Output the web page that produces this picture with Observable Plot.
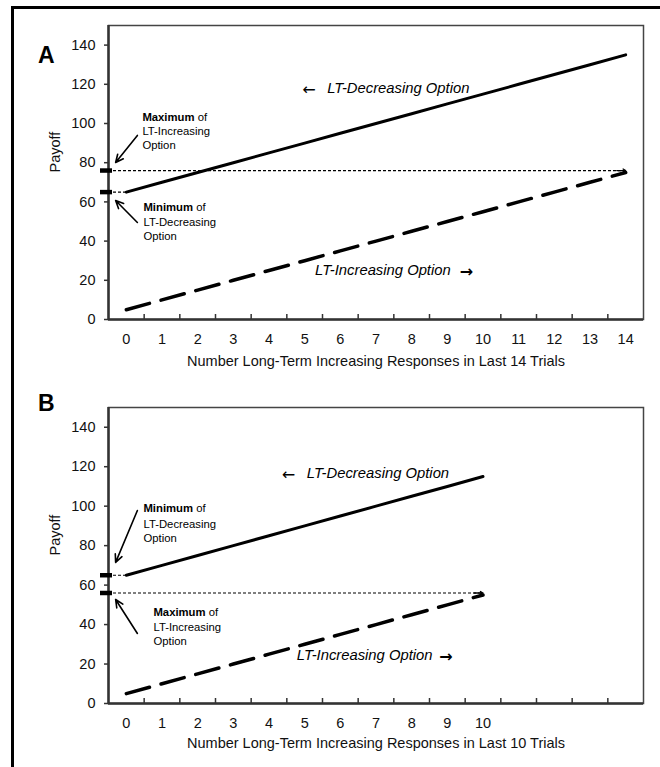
<!DOCTYPE html>
<html><head><meta charset="utf-8">
<script src="https://cdn.jsdelivr.net/npm/d3@7"></script>
<script src="https://cdn.jsdelivr.net/npm/@observablehq/plot@0.6"></script>
<style>
body{margin:0;background:#fff}
#wrap{position:relative;width:660px;height:767px;overflow:hidden;background:#fff}
#a{position:absolute;left:0;top:0}
#b{position:absolute;left:0;top:380px}
#border{position:absolute;left:11px;top:6px;width:700px;height:800px;border-top:3px solid #000;border-left:3px solid #000;pointer-events:none}
</style></head>
<body><div id="wrap"><div id="a"></div><div id="b"></div><div id="border"></div></div>
<script>
// ---- data ----
const responses14 = [0,1,2,3,4,5,6,7,8,9,10,11,12,13,14];
const ltDecreasingA = [65,70,75,80,85,90,95,100,105,110,115,120,125,130,135];
const ltIncreasingA = [5,10,15,20,25,30,35,40,45,50,55,60,65,70,75];
const responses10 = [0,1,2,3,4,5,6,7,8,9,10];
const ltDecreasingB = [65,70,75,80,85,90,95,100,105,110,115];
const ltIncreasingB = [5,10,15,20,25,30,35,40,45,50,55];
const payoffTicks = [0,20,40,60,80,100,120,140];
const bandEdges = [0.5,1.5,2.5,3.5,4.5,5.5,6.5,7.5,8.5,9.5,10.5,11.5,12.5,13.5];
const maxIncreasingA = 76, minDecreasingA = 65;
const minDecreasingB = 65, maxIncreasingB = 56;

const FONT = "'Liberation Sans', Arial, Helvetica, sans-serif";
const ARROWFONT = "'DejaVu Sans', sans-serif";
const W = 660, ML = 108, MR = 17;
const ctx = document.createElement("canvas").getContext("2d");
function textWidth(t, font){ ctx.font = font; return ctx.measureText(t).width; }

function panel(cfg){
  const innerW = W - ML - MR;
  const innerH = cfg.height - cfg.marginTop - cfg.marginBottom;
  const dec = cfg.x.map((x,i)=>({x, payoff: cfg.dec[i]}));
  const inc = cfg.x.map((x,i)=>({x, payoff: cfg.inc[i]}));
  const last = cfg.x[cfg.x.length-1];
  const bold = cfg.notes.filter(n=>n.bold);
  const plain = cfg.notes.filter(n=>!n.bold);
  const noteSize = 11.3;
  const ofMarks = bold.map(n => Plot.text([n], {x:"x", y:"y", text: () => "of", textAnchor:"start",
    fontSize: noteSize, dx: textWidth(n.text, `bold ${noteSize}px ${FONT}`) + textWidth(" ", `${noteSize}px ${FONT}`)}));
  return Plot.plot({
    width: W, height: cfg.height, marginLeft: ML, marginRight: MR,
    marginTop: cfg.marginTop, marginBottom: cfg.marginBottom,
    style: {fontFamily: FONT, fontSize: "14.5px", background: "transparent", color: "#000", overflow: "visible"},
    x: {domain: [-0.5, 14.5]},
    y: {domain: [0, 150]},
    marks: [
      Plot.frame({stroke: "#444", strokeWidth: 1.5}),
      Plot.ruleY([0], {stroke: "#333", strokeWidth: 2.5}),
      Plot.ruleX([-0.5], {stroke: "#333", strokeWidth: 2.5}),
      Plot.tickX(bandEdges, {x: d=>d, insetTop: innerH - 5, stroke: "#333", strokeWidth: 1.5}),
      Plot.axisY({ticks: payoffTicks, tickSize: 4, tickPadding: 9, label: null, stroke: "#333", strokeWidth: 1.5, fill: "#111"}),
      Plot.axisX({ticks: cfg.x, tickSize: 0, tickPadding: 14, label: null, fill: "#111"}),
      Plot.text([cfg.xTitle], {frameAnchor: "bottom", dy: cfg.titleDy, fontSize: 14.5, fill: "#111"}),
      Plot.text(["Payoff"], {frameAnchor: "left", dx: -53, rotate: -90, fontSize: 14.5, fill: "#111"}),
      Plot.text([cfg.letter], {frameAnchor: "top-left", dx: -70.5, dy: cfg.letterDy, fontSize: 23, fontWeight: "bold"}),
      // threshold guides
      Plot.ruleY([cfg.maxInc], {x1: -0.5, x2: last, y: d=>d, strokeDasharray: "3,2", strokeWidth: 1.2}),
      Plot.arrow([cfg.maxInc], {x1: last - 0.25, x2: last, y1: d=>d, y2: d=>d, headLength: 6, strokeWidth: 1.3}),
      Plot.ruleY([cfg.minDec], {x1: -0.5, x2: 0, y: d=>d, strokeDasharray: "3,2", strokeWidth: 1.2}),
      Plot.tickY([cfg.maxInc, cfg.minDec], {y: d=>d, dx: -8, insetRight: innerW - 12, strokeWidth: 4.5}),
      // option lines
      Plot.line(dec, {x: "x", y: "payoff", strokeWidth: 3}),
      Plot.line(inc, {x: "x", y: "payoff", strokeWidth: 3.5, strokeDasharray: "24,12"}),
      // option labels
      Plot.text([cfg.decLabel], {x: "arrowX", y: "y", text: () => "←", textAnchor: "start", fontSize: 16, fontFamily: ARROWFONT, dy: 1}),
      Plot.text([cfg.decLabel], {x: "textX", y: "y", text: () => "LT-Decreasing Option", textAnchor: "start", fontSize: 14.8, fontStyle: "italic"}),
      Plot.text([cfg.incLabel], {x: "textX", y: "y", text: () => "LT-Increasing Option", textAnchor: "start", fontSize: 14.8, fontStyle: "italic"}),
      Plot.text([cfg.incLabel], {x: "arrowX", y: "y", text: () => "→", textAnchor: "start", fontSize: 16, fontWeight: "bold", fontFamily: ARROWFONT, dy: 1}),
      // notes
      Plot.text(bold, {x: "x", y: "y", text: "text", textAnchor: "start", fontSize: noteSize, fontWeight: "bold"}),
      ...ofMarks,
      Plot.text(plain, {x: "x", y: "y", text: "text", textAnchor: "start", fontSize: noteSize}),
      Plot.arrow(cfg.pointers, {x1: "x1", y1: "y1", x2: "x2", y2: "y2", headLength: 8, headAngle: 50, strokeWidth: 1.6})
    ]
  });
}

document.getElementById("a").append(panel({
  letter: "A", letterDy: 21.5,
  height: 380, marginTop: 25, marginBottom: 61, titleDy: 46,
  x: responses14, dec: ltDecreasingA, inc: ltIncreasingA,
  maxInc: maxIncreasingA, minDec: minDecreasingA,
  xTitle: "Number Long-Term Increasing Responses in Last 14 Trials",
  decLabel: {arrowX: 4.93, textX: 5.63, y: 117.9},
  incLabel: {textX: 5.29, arrowX: 9.35, y: 25},
  notes: [
    {x: 0.45, y: 103.1, text: "Maximum", bold: true},
    {x: 0.45, y: 95.9, text: "LT-Increasing"},
    {x: 0.45, y: 88.8, text: "Option"},
    {x: 0.48, y: 57.1, text: "Minimum", bold: true},
    {x: 0.48, y: 49.5, text: "LT-Decreasing"},
    {x: 0.48, y: 42.3, text: "Option"}
  ],
  pointers: [
    {x1: 0.31, y1: 93.9, x2: -0.3, y2: 80.1},
    {x1: 0.31, y1: 49.5, x2: -0.3, y2: 60.7}
  ]
}));

document.getElementById("b").append(panel({
  letter: "B", letterDy: -12.5,
  height: 387, marginTop: 27, marginBottom: 64, titleDy: 44,
  x: responses10, dec: ltDecreasingB, inc: ltIncreasingB,
  maxInc: maxIncreasingB, minDec: minDecreasingB,
  xTitle: "Number Long-Term Increasing Responses in Last 10 Trials",
  decLabel: {arrowX: 4.36, textX: 5.06, y: 116.6},
  incLabel: {textX: 4.78, arrowX: 8.77, y: 24.3},
  notes: [
    {x: 0.48, y: 98.8, text: "Minimum", bold: true},
    {x: 0.48, y: 90.7, text: "LT-Decreasing"},
    {x: 0.48, y: 83.6, text: "Option"},
    {x: 0.76, y: 46.1, text: "Maximum", bold: true},
    {x: 0.76, y: 38.5, text: "LT-Increasing"},
    {x: 0.76, y: 31.4, text: "Option"}
  ],
  pointers: [
    {x1: 0.31, y1: 97.8, x2: -0.3, y2: 71.5},
    {x1: 0.31, y1: 35.5, x2: -0.3, y2: 52.7}
  ]
}));
</script></body></html>
